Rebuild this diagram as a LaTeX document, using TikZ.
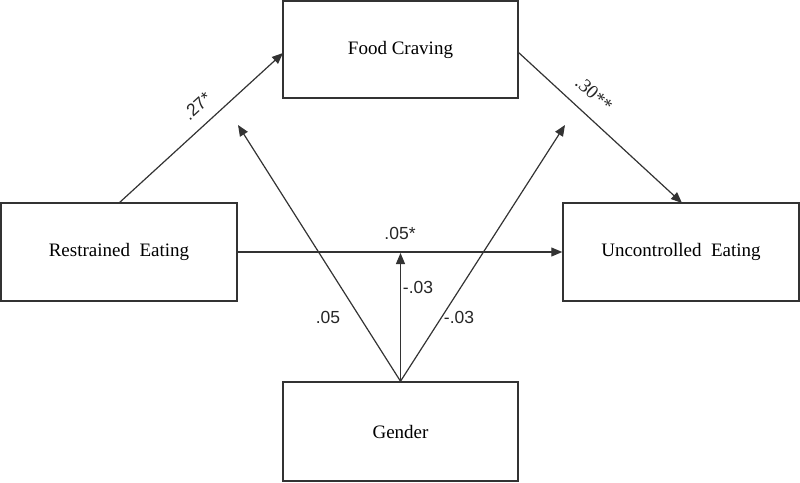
\documentclass[tikz,border=0pt]{standalone}
\usepackage{fontspec}
\setmainfont{Liberation Serif}
\newfontfamily\labsans{Liberation Sans}
\usetikzlibrary{arrows.meta}
\begin{document}
\begin{tikzpicture}[x=1pt,y=-1pt,
  box/.style={draw=black!80,line width=1.5pt,rectangle,inner sep=0pt,font=\fontsize{19}{22}\selectfont},
  arr/.style={draw=black!80,line width=1.2pt,-{Triangle[length=11pt,width=9pt]}},
  lab/.style={font=\labsans\fontsize{17.5}{20}\selectfont,text=black!85,inner sep=0pt}]
\useasboundingbox (0,0) rectangle (800,482);
\node[box,minimum width=235pt,minimum height=97pt] (F) at (400.5,49.5) {Food Craving};
\node[box,minimum width=236pt,minimum height=98pt] (R) at (119,252) {Restrained\ \ Eating};
\node[box,minimum width=236pt,minimum height=98pt] (U) at (681,252) {Uncontrolled\ \ Eating};
\node[box,minimum width=235pt,minimum height=99pt] (G) at (400.5,431.5) {Gender};
\coordinate (fin) at (283,53);
\coordinate (fout) at (518,52);
\coordinate (uin) at (682,203);
\coordinate (rout) at (119,203);
\coordinate (gl) at (238,125);
\coordinate (gr) at (565,125);
\coordinate (gm) at (400.5,253);
\draw[arr] (rout) -- (fin);
\draw[arr] (fout) -- (uin);
\draw[arr] (R.east) -- (U.west);
\draw[arr] (G.north) -- (gl);
\draw[arr] (G.north) -- (gr);
\draw[arr] (G.north) -- (gm);
\node[lab,rotate=42.4] (l1) at (197,106) {.27*};
\node[lab,rotate=-42.6,font=\rmfamily\fontsize{19}{20}\selectfont] (l2) at (594,94) {.30**};
\node[lab] (l3) at (400,233) {.05*};
\node[lab] (l4) at (418,287) {-.03};
\node[lab] (l5) at (328,317) {.05};
\node[lab] (l6) at (459,317) {-.03};
\end{tikzpicture}
\end{document}
